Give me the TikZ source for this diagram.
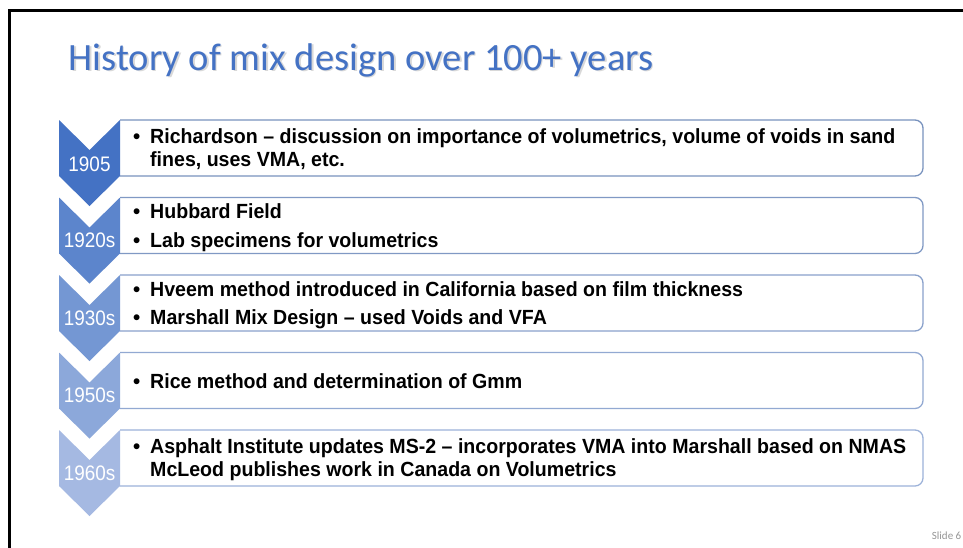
\documentclass[tikz,border=0pt]{standalone}
\usepackage{fontspec}
\setmainfont{Liberation Sans}
\newfontfamily\titlefont{Carlito}
\newfontfamily\bodyfont[FakeStretch=0.955]{Liberation Sans}
\newfontfamily\yearfont[FakeStretch=0.9]{Liberation Sans}
\definecolor{titleblue}{RGB}{68,114,196}
\definecolor{chA}{RGB}{68,114,196}
\definecolor{chB}{RGB}{92,133,204}
\definecolor{chC}{RGB}{116,151,211}
\definecolor{chD}{RGB}{140,168,218}
\definecolor{chE}{RGB}{165,185,226}
\definecolor{bdA}{RGB}{120,146,190}
\definecolor{bdB}{RGB}{128,153,196}
\definecolor{bdC}{RGB}{137,161,203}
\definecolor{bdD}{RGB}{146,169,210}
\definecolor{bdE}{RGB}{156,178,217}
\definecolor{slidegray}{RGB}{150,150,150}
\tikzset{
  boxnode/.style={minimum width=803pt, minimum height=56pt, inner sep=0pt, outer sep=0pt, anchor=north west},
  boxline/.style={line width=1.3pt, rounded corners=8pt},
  yearlbl/.style={text=white, font=\yearfont\fontsize{21}{22}\selectfont, inner sep=0pt},
  itemtxt/.style={anchor=base west, inner sep=0pt, font=\bodyfont\fontsize{20.5}{23}\selectfont\bfseries},
  bulletdot/.style={anchor=base west, inner sep=0pt, font=\fontsize{20.5}{23}\selectfont\bfseries},
}
\begin{document}
\begin{tikzpicture}[x=1pt,y=-1pt]
\useasboundingbox (0,0) rectangle (963,547);
\fill[white] (0,0) rectangle (963,547);
% frame
\draw[line width=3pt, black] (8,10.5) -- (965,10.5);
\draw[line width=3pt, black] (9.5,9) -- (9.5,549);
% title
\node[anchor=base west, inner sep=0pt, text=black!25, opacity=0.6, font=\titlefont\fontsize{38.6}{40}\selectfont] (titleshadow) at (70,71.5) {History of mix design over 100+ years};
\node[anchor=base west, inner sep=0pt, text=titleblue, font=\titlefont\fontsize{38.6}{40}\selectfont] (title) at (68.5,70) {History of mix design over 100+ years};
% boxes
\foreach \i/\t/\bd in {1/120/bdA,2/197.5/bdB,3/275/bdC,4/352.5/bdD,5/430/bdE}{
  \node[boxnode] (b\i) at (120,\t) {};
  \draw[boxline, draw=\bd] (b\i.north west) -- (b\i.north east) -- (b\i.south east) -- (b\i.south west);
}
% chevrons
\foreach \i/\c in {1/chA,2/chB,3/chC,4/chD,5/chE}{
  \fill[\c] ([xshift=-61pt]b\i.north west) -- ([xshift=-30.5pt,yshift=-30pt]b\i.north west) -- (b\i.north west)
     -- (b\i.south west) -- ([xshift=-30.5pt,yshift=-30pt]b\i.south west) -- ([xshift=-61pt]b\i.south west) -- cycle;
}
\node[yearlbl] (y1) at ([xshift=-30.5pt,yshift=-44pt]b1.north west) {1905};
\node[yearlbl] (y2) at ([xshift=-30.5pt,yshift=-43pt]b2.north west) {1920s};
\node[yearlbl] (y3) at ([xshift=-30.5pt,yshift=-43pt]b3.north west) {1930s};
\node[yearlbl] (y4) at ([xshift=-30.5pt,yshift=-43pt]b4.north west) {1950s};
\node[yearlbl] (y5) at ([xshift=-30.5pt,yshift=-43pt]b5.north west) {1960s};
% texts
\node[bulletdot] (d11) at (133,143) {•};
\node[itemtxt] (t11) at (150,143) {Richardson – discussion on importance of volumetrics, volume of voids in sand};
\node[itemtxt] (t12) at (150,166) {fines, uses VMA, etc.};
\node[bulletdot] (d21) at (133,218) {•};
\node[itemtxt] (t21) at (150,218) {Hubbard Field};
\node[bulletdot] (d22) at (133,247) {•};
\node[itemtxt] (t22) at (150,247) {Lab specimens for volumetrics};
\node[bulletdot] (d31) at (133,296) {•};
\node[itemtxt] (t31) at (150,296) {Hveem method introduced in California based on film thickness};
\node[bulletdot] (d32) at (133,324.5) {•};
\node[itemtxt] (t32) at (150,324.5) {Marshall Mix Design – used Voids and VFA};
\node[bulletdot] (d41) at (133,388) {•};
\node[itemtxt] (t41) at (150,388) {Rice method and determination of Gmm};
\node[bulletdot] (d51) at (133,453) {•};
\node[itemtxt] (t51) at (150,453) {Asphalt Institute updates MS-2 – incorporates VMA into Marshall based on NMAS};
\node[itemtxt] (t52) at (150,476.5) {McLeod publishes work in Canada on Volumetrics};
% slide number
\node[anchor=base east, inner sep=0pt, text=slidegray, font=\titlefont\fontsize{11}{12}\selectfont] (slide) at (961.5,539) {Slide 6};
\end{tikzpicture}
\end{document}
